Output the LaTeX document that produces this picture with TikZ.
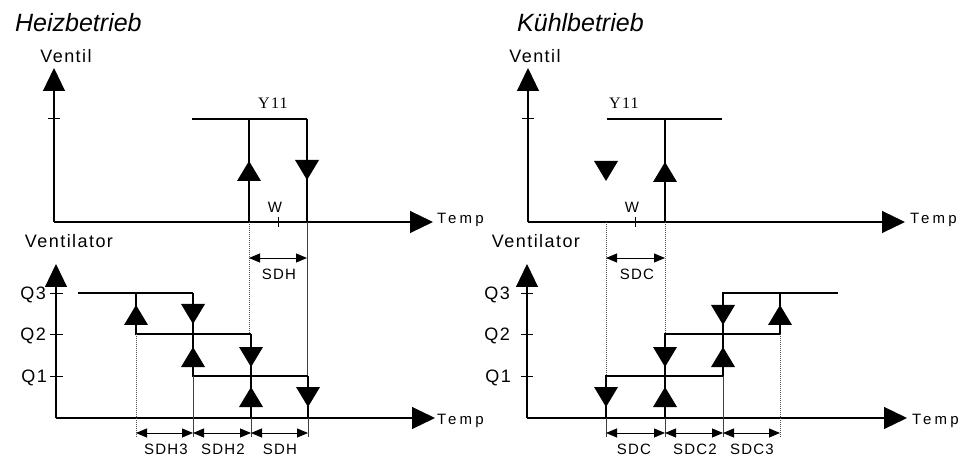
\documentclass[tikz,border=0pt]{standalone}
\usepackage{fontspec}
\setmainfont{Liberation Sans}
\newfontfamily\serifY{Liberation Serif}[LetterSpace=8]
\newfontfamily\spcA{Liberation Sans}[LetterSpace=8]
\newfontfamily\spcB{Liberation Sans}[LetterSpace=22]
\usetikzlibrary{arrows.meta}
\begin{document}
\begin{tikzpicture}[x=1pt,y=-1pt,
  axisline/.style={line width=1.1pt,-{Triangle[length=23pt,width=22pt]}},
  ticks/.style={line width=0.8pt},
  stepline/.style={line width=2pt},
  valvethin/.style={line width=1.2pt},
  valvethick/.style={line width=2.3pt},
  baseline/.style={line width=1.6pt},
  thinline/.style={line width=0.7pt,black!75},
  dotline/.style={line width=0.7pt,black!70,dash pattern=on 1pt off 1pt},
  dimline/.style={line width=0.9pt,{Triangle[length=11pt,width=9pt]}-{Triangle[length=11pt,width=9pt]}},
  title/.style={font=\fontsize{25}{29}\selectfont\itshape,anchor=base west,inner sep=0pt},
  axlab/.style={font=\spcA\fontsize{18}{20}\selectfont,anchor=base,inner sep=0pt},
  qlab/.style={font=\spcA\fontsize{18}{20}\selectfont,anchor=base east,inner sep=0pt},
  templab/.style={font=\spcB\fontsize{15}{17}\selectfont,anchor=base west,inner sep=0pt},
  dimlab/.style={font=\spcA\fontsize{15}{17}\selectfont,anchor=base,inner sep=0pt},
  ylab/.style={font=\serifY\fontsize{16}{18}\selectfont,anchor=base,inner sep=0pt},
  wlab/.style={font=\fontsize{15}{17}\selectfont,anchor=base,inner sep=0pt},
  uptri/.pic={\fill (-12,10) -- (0,-10) -- (12,10) -- cycle;},
  dntri/.pic={\fill (-12,-10) -- (0,10) -- (12,-10) -- cycle;}
]
\useasboundingbox (0,0) rectangle (970,457);

% ================= LEFT: Heizbetrieb =================
\node[title] (tH) at (15,32) {Heizbetrieb};
% upper axes
\draw[axisline] (54,222) -- (54,68);
\draw[axisline] (54,222) -- (433,222);
\draw[ticks] (48,118) -- (60,118);
\node[axlab] (vH) at (66,63) {Ventil};
\node[templab] (tpH1) at (437,223.5) {Temp};
% valve curve
\draw[valvethin] (192,119) -- (307,119);
\draw[valvethin] (249,119) -- (249,222);
\draw[valvethick] (307,119) -- (307,222);
\draw[baseline] (249,222) -- (365,222);
\pic at (249,171) {uptri};
\pic at (307,170) {dntri};
\node[ylab] (yH) at (273,109) {Y11};
\draw[ticks] (278,217) -- (278,227);
\node[wlab] (wH) at (275,213) {W};
% extension lines
\draw[dotline] (249,222) -- (249,334);
\draw[thinline] (307,222) -- (307,376);
\draw[dimline] (249,258) -- (307,258);
\node[dimlab] (sdhU) at (279,280) {SDH};

% lower axes
\draw[axisline] (56,418) -- (56,264);
\draw[axisline] (56,418) -- (435,418);
\draw[ticks] (50,293) -- (63,293);
\draw[ticks] (50,334) -- (63,334);
\draw[ticks] (50,376) -- (63,376);
\node[qlab] (q3H) at (46,299.5) {Q3};
\node[qlab] (q2H) at (46,340.5) {Q2};
\node[qlab] (q1H) at (47,382.5) {Q1};
\node[axlab] (venH) at (69,248) {Ventilator};
\node[templab] (tpH2) at (437,424) {Temp};
% steps
\draw[stepline] (78,293) -- (193,293);
\draw[stepline] (136,293) -- (136,334) -- (251,334);
\draw[stepline] (193,293) -- (193,376) -- (308,376);
\draw[stepline] (251,334) -- (251,418);
\draw[stepline] (308,376) -- (308,418);
\draw[baseline] (251,418) -- (367,418);
\pic at (136,315) {uptri};
\pic at (193,314) {dntri};
\pic at (193,357) {uptri};
\pic at (251,357) {dntri};
\pic at (251,397) {uptri};
\pic at (308,397) {dntri};
% extensions
\draw[dotline] (136,334) -- (136,437);
\draw[thinline] (193,376) -- (193,437);
\draw[thinline] (251,418) -- (251,437);
\draw[thinline] (308,418) -- (308,437);
\draw[dimline] (136,433) -- (193,433);
\draw[dimline] (193,433) -- (251,433);
\draw[dimline] (251,433) -- (308,433);
\node[dimlab] (d1H) at (166,454) {SDH3};
\node[dimlab] (d2H) at (223,454) {SDH2};
\node[dimlab] (d3H) at (280,454) {SDH};

% ================= RIGHT: Kühlbetrieb =================
\node[title] (tK) at (517,32) {Kühlbetrieb};
\draw[axisline] (528,222) -- (528,68);
\draw[axisline] (528,222) -- (905,222);
\draw[ticks] (522,118) -- (534,118);
\node[axlab] (vK) at (535,63) {Ventil};
\node[templab] (tpK1) at (910,223.5) {Temp};
% valve curve
\draw[valvethin] (607,119) -- (722,119);
\draw[valvethick] (665,119) -- (665,222);
\draw[baseline] (548,222) -- (665,222);
\pic at (665,172) {uptri};
\pic at (606,171) {dntri};
\node[ylab] (yK) at (624,109) {Y11};
\draw[ticks] (635,217) -- (635,227);
\node[wlab] (wK) at (632,213) {W};
% extension lines
\draw[dotline] (606,222) -- (606,376);
\draw[dotline] (665,222) -- (665,334);
\draw[dimline] (606,258) -- (665,258);
\node[dimlab] (sdcU) at (637,280) {SDC};

% lower axes
\draw[axisline] (527,418) -- (527,264);
\draw[axisline] (527,418) -- (907,418);
\draw[ticks] (521,293) -- (533,293);
\draw[ticks] (521,334) -- (533,334);
\draw[ticks] (521,376) -- (533,376);
\node[qlab] (q3K) at (510,299.5) {Q3};
\node[qlab] (q2K) at (510,340.5) {Q2};
\node[qlab] (q1K) at (511,382.5) {Q1};
\node[axlab] (venK) at (536,248) {Ventilator};
\node[templab] (tpK2) at (912,424) {Temp};
% steps
\draw[baseline] (548,418) -- (665,418);
\draw[stepline] (606,418) -- (606,376) -- (723,376);
\draw[stepline] (665,418) -- (665,334) -- (780,334);
\draw[stepline] (723,376) -- (723,293) -- (838,293);
\draw[stepline] (780,334) -- (780,293);
\pic at (606,397) {dntri};
\pic at (665,397) {uptri};
\pic at (665,357) {dntri};
\pic at (723,357) {uptri};
\pic at (723,315) {dntri};
\pic at (780,315) {uptri};
% extensions
\draw[thinline] (606,418) -- (606,437);
\draw[thinline] (665,418) -- (665,437);
\draw[thinline] (723,376) -- (723,437);
\draw[dotline] (780,334) -- (780,437);
\draw[dimline] (606,433) -- (665,433);
\draw[dimline] (665,433) -- (723,433);
\draw[dimline] (723,433) -- (780,433);
\node[dimlab] (d1K) at (634,454) {SDC};
\node[dimlab] (d2K) at (695,454) {SDC2};
\node[dimlab] (d3K) at (752,454) {SDC3};
\end{tikzpicture}
\end{document}
